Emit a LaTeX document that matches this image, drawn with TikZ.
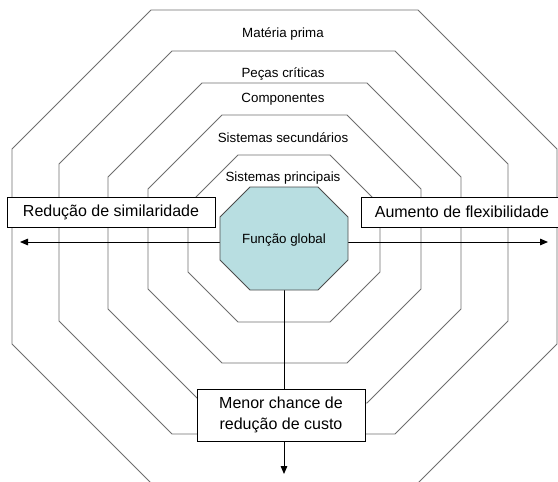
\documentclass[tikz,border=0pt]{standalone}
\usepackage{fontspec}
\setmainfont{Liberation Sans}
\usetikzlibrary{arrows.meta,backgrounds}
\definecolor{ringgray}{HTML}{6E6E6E}
\definecolor{hubfill}{HTML}{B8DEE1}

\begin{document}
\begin{tikzpicture}[x=0.75pt,y=-0.75pt,
    ring/.style={draw=ringgray,line width=0.7pt},
    lvl/.style={anchor=base,inner sep=0pt,font=\fontsize{10}{12}\selectfont},
    side/.style={draw=black,fill=white,line width=0.7pt,inner sep=0pt,
                 font=\fontsize{12}{15.5}\selectfont,align=center},
    conn/.style={draw=black,line width=0.7pt},
    >={Triangle[length=6pt,width=5pt]}]
  \useasboundingbox (0,0) rectangle (558,482);

  % levels, outer to inner
  \node[lvl] (mp) at (283,37)  {Matéria prima};
  \node[lvl] (pc) at (283,77)  {Peças críticas};
  \node[lvl] (co) at (283,102) {Componentes};
  \node[lvl] (ss) at (283,142) {Sistemas secundários};
  \node[lvl] (sp) at (283,181) {Sistemas principais};

  % central function
  \draw[line width=0.7pt,draw=black!70,fill=hubfill]
    (250,187) -- (318,187) -- (348,217) -- (348,260) -- (318,290)
    -- (250,290) -- (220,260) -- (220,217) -- cycle;
  \node[lvl] (fg) at (284,243) {Função global};

  % the three directions
  \node[side,minimum width=156pt,minimum height=22.5pt] (rs) at (111,212) {Redução de similaridade};
  \node[side,minimum width=151.5pt,minimum height=22.5pt] (af) at (462,212) {Aumento de flexibilidade};
  \node[side,minimum width=126pt,minimum height=39pt] (mc) at (281,415) {Menor chance de\\redução de custo};

  \coordinate (wend) at (20,242);
  \coordinate (eend) at (548,242);
  \coordinate (send) at (284,474);

  \begin{scope}[on background layer]
    \foreach \xa/\ya/\xb/\yb/\c in {12/10/557/483/139, 59/51/508/434/113,
        108/83/461/403/94, 148/115/421/363/74, 188/155/380/322/50}
      \draw[ring] (\xa+\c,\ya) -- (\xb-\c,\ya) -- (\xb,\ya+\c) -- (\xb,\yb-\c)
        -- (\xb-\c,\yb) -- (\xa+\c,\yb) -- (\xa,\yb-\c) -- (\xa,\ya+\c) -- cycle;
    \draw[conn,<->] (wend) -- (eend);
    \draw[conn,->] (fg) -- (send);
  \end{scope}
\end{tikzpicture}
\end{document}
